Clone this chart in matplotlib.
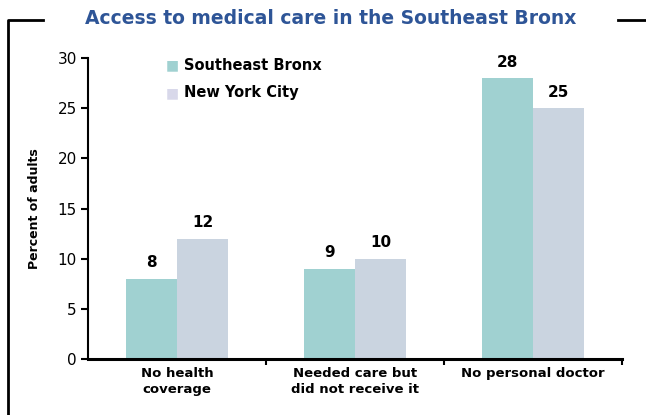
import numpy as np
import matplotlib.pyplot as plt
from matplotlib.lines import Line2D

categories = ['No health\ncoverage', 'Needed care but\ndid not receive it', 'No personal doctor']
bronx = [8, 9, 28]
nyc = [12, 10, 25]
series_names = ['Southeast Bronx', 'New York City']
yticks = [0, 5, 10, 15, 20, 25, 30]

c_bronx = '#a0d1d1'
c_nyc = '#cad4e0'

W, H = 646, 415
fig = plt.figure(figsize=(W/100, H/100), dpi=100)
ax = fig.add_axes([88/W, (H-359)/H, (622-88)/W, (359-58)/H])

x = np.arange(len(categories))
bw = 0.287
b1 = ax.bar(x - bw/2, bronx, bw, color=c_bronx)
b2 = ax.bar(x + bw/2, nyc, bw, color=c_nyc)
for bars, vals in ((b1, bronx), (b2, nyc)):
    for r, v in zip(bars, vals):
        ax.annotate(str(v), (r.get_x() + r.get_width()/2, v), xytext=(0, 6),
                    textcoords='offset points', ha='center', va='bottom',
                    fontsize=11, fontweight='bold')

ax.set_xlim(-0.5, 2.5)
ax.set_ylim(0, 30)
ax.set_yticks(yticks)
ax.tick_params(axis='y', labelsize=11, length=5, width=1.5, direction='out', pad=3)
ax.set_xticks([0.5, 1.5, 2.5], minor=False)
ax.set_xticklabels([])
ax.tick_params(axis='x', length=4, width=1.5, direction='out')
ax.set_xticks(x, minor=True)
ax.set_xticklabels(categories, minor=True, fontsize=9.5, fontweight='bold')
ax.tick_params(axis='x', which='minor', length=0, pad=6)
for lab in ax.get_xticklabels(minor=True):
    lab.set_linespacing(1.3)
ax.spines['top'].set_visible(False)
ax.spines['right'].set_visible(False)
ax.spines['left'].set_linewidth(1.5)
ax.spines['bottom'].set_linewidth(2.2)
ax.set_ylabel('Percent of adults', fontsize=9, fontweight='bold', labelpad=12)

# legend drawn as squares + text
for i, (name, col) in enumerate(zip(series_names, [c_bronx, '#d8d8ea'])):
    yy = 1 - (65 + 28*i)/H
    fig.text(172/W, yy, '\u25a0', color=col, fontsize=10, ha='center', va='center')
    fig.text(184/W, yy, name, fontsize=10.5, fontweight='bold', ha='left', va='center')

fig.text(331/W, 1 - 19/H, 'Access to medical care in the Southeast Bronx',
         ha='center', va='center', fontsize=13.5, fontweight='bold', color='#2e5597')

# frame lines
fig.add_artist(Line2D([8/W, 8/W, 43/W], [0, 1-20/H, 1-20/H], color='black', lw=2))
fig.add_artist(Line2D([618/W, 1], [1-20/H, 1-20/H], color='black', lw=2))

fig.savefig('out.png', dpi=100)
